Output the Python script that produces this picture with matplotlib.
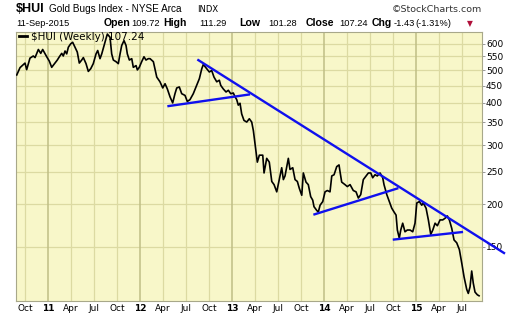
import matplotlib
matplotlib.use("Agg")
import matplotlib.pyplot as plt
from matplotlib.ticker import FixedLocator, NullLocator, FixedFormatter

# ---- data (time in decimal years, weekly close of $HUI) ----
t = [2010.660, 2010.696, 2010.750, 2010.768, 2010.804, 2010.840, 2010.859, 2010.895, 2010.921, 2010.942,
     2010.967, 2010.986, 2011.014, 2011.040, 2011.076, 2011.101, 2011.123, 2011.149, 2011.166, 2011.185,
     2011.203, 2011.221, 2011.247, 2011.268, 2011.293, 2011.318, 2011.340, 2011.366, 2011.384, 2011.413,
     2011.438, 2011.464, 2011.492, 2011.522, 2011.540, 2011.565, 2011.584, 2011.609, 2011.630, 2011.645,
     2011.674, 2011.692, 2011.710, 2011.739, 2011.764, 2011.783, 2011.801, 2011.826, 2011.848, 2011.862,
     2011.884, 2011.910, 2011.927, 2011.957, 2011.971, 2011.992, 2012.018, 2012.043, 2012.065, 2012.090,
     2012.109, 2012.145, 2012.182, 2012.217, 2012.247, 2012.272, 2012.297, 2012.326, 2012.355, 2012.380,
     2012.399, 2012.427, 2012.453, 2012.489, 2012.514, 2012.543, 2012.579, 2012.616, 2012.645, 2012.671,
     2012.688, 2012.725, 2012.753, 2012.779, 2012.804, 2012.834, 2012.862, 2012.877, 2012.905, 2012.935,
     2012.960, 2012.986, 2013.014, 2013.033, 2013.051, 2013.068, 2013.087, 2013.105, 2013.130, 2013.160,
     2013.188, 2013.214, 2013.232, 2013.250, 2013.275, 2013.297, 2013.334, 2013.348, 2013.377, 2013.405,
     2013.432, 2013.457, 2013.486, 2013.514, 2013.540, 2013.558, 2013.576, 2013.612, 2013.630, 2013.660,
     2013.685, 2013.710, 2013.732, 2013.758, 2013.775, 2013.804, 2013.829, 2013.855, 2013.877, 2013.891,
     2013.921, 2013.938, 2013.957, 2013.986, 2014.011, 2014.036, 2014.065, 2014.084, 2014.109, 2014.138,
     2014.163, 2014.174, 2014.192, 2014.228, 2014.253, 2014.283, 2014.318, 2014.348, 2014.373, 2014.399,
     2014.427, 2014.457, 2014.482, 2014.508, 2014.529, 2014.554, 2014.579, 2014.609, 2014.638, 2014.652,
     2014.682, 2014.710, 2014.736, 2014.761, 2014.783, 2014.797, 2014.818, 2014.834, 2014.855, 2014.880,
     2014.905, 2014.935, 2014.964, 2014.989, 2015.008, 2015.036, 2015.062, 2015.079, 2015.109, 2015.134,
     2015.160, 2015.182, 2015.207, 2015.232, 2015.261, 2015.290, 2015.315, 2015.340, 2015.362, 2015.388,
     2015.413, 2015.442, 2015.471, 2015.497, 2015.522, 2015.551, 2015.568, 2015.587, 2015.605, 2015.622,
     2015.641, 2015.666, 2015.685]
v = [484, 509, 525, 502, 543, 551, 545, 576, 561, 576,
     560, 548, 532, 510, 525, 536, 548, 561, 551, 570,
     559, 585, 599, 605, 585, 566, 525, 536, 545, 523,
     496, 505, 523, 559, 572, 541, 559, 592, 620, 640,
     626, 559, 536, 530, 523, 559, 592, 612, 592, 559,
     536, 541, 510, 516, 501, 510, 530, 548, 536, 541,
     541, 530, 477, 462, 443, 456, 440, 417, 400, 426,
     443, 446, 426, 421, 404, 409, 426, 451, 472, 505,
     520, 505, 494, 499, 477, 462, 467, 451, 440, 431,
     436, 426, 428, 417, 409, 394, 399, 371, 355, 351,
     359, 351, 331, 303, 267, 280, 280, 248, 274, 267,
     234, 229, 218, 237, 257, 237, 243, 274, 254, 257,
     237, 234, 223, 213, 248, 233, 229, 211, 206, 197,
     192, 190, 199, 204, 218, 220, 218, 243, 245, 259,
     262, 250, 233, 229, 226, 229, 220, 218, 209, 214,
     237, 243, 248, 248, 240, 245, 243, 248, 240, 229,
     214, 204, 195, 190, 186, 168, 159, 168, 176, 166,
     168, 168, 166, 176, 202, 204, 199, 202, 195, 180,
     163, 168, 176, 173, 180, 180, 182, 185, 180, 170,
     157, 154, 147, 134, 122, 112, 109, 114, 127, 117,
     110, 108, 107.24]

# trend lines: (start, end) in time and value
trend_t = [[2012.623, 2015.967], [2012.297, 2013.196], [2013.884, 2014.808], [2014.747, 2015.511]]
trend_v = [[538, 143.0], [391, 424], [186.5, 223.6], [157.3, 165.8]]

ytick_vals = [150, 200, 250, 300, 350, 400, 450, 500, 550, 600]
xtick_pos = [2010.75, 2011.0, 2011.25, 2011.5, 2011.75, 2012.0, 2012.25, 2012.5, 2012.75,
             2013.0, 2013.25, 2013.5, 2013.75, 2014.0, 2014.25, 2014.5, 2014.75,
             2015.0, 2015.25, 2015.5]
xtick_lab = ["Oct", "11", "Apr", "Jul", "Oct", "12", "Apr", "Jul", "Oct",
             "13", "Apr", "Jul", "Oct", "14", "Apr", "Jul", "Oct",
             "15", "Apr", "Jul"]

W, H = 520, 318
fig = plt.figure(figsize=(W / 100, H / 100), dpi=100)
fig.patch.set_facecolor("white")
ax = fig.add_axes([16 / W, 1 - 301 / H, 466 / W, 269 / H])
ax.set_facecolor("#F8F7C9")
ax.set_yscale("log")
ax.set_xlim(2010.652, 2015.717)
ax.set_ylim(103.5, 649)

grid_c = "#DCDAA2"
year_c = "#BFBE86"
for y in ytick_vals:
    ax.axhline(y, color=grid_c, lw=0.9, zorder=1)
for xp, lab in zip(xtick_pos, xtick_lab):
    ax.axvline(xp, color=(year_c if lab.isdigit() else grid_c), lw=(1.1 if lab.isdigit() else 0.9), zorder=1)

ax.plot(t, v, color="black", lw=1.2, zorder=3, solid_joinstyle="round")
for tt, vv in zip(trend_t, trend_v):
    ax.plot(tt, vv, color="#1010EE", lw=1.7, zorder=4, clip_on=False, solid_capstyle="butt")

for s in ax.spines.values():
    s.set_color("#A8A88A")
    s.set_linewidth(0.8)

ax.yaxis.tick_right()
ax.yaxis.set_major_locator(FixedLocator(ytick_vals))
ax.yaxis.set_minor_locator(NullLocator())
ax.yaxis.set_major_formatter(FixedFormatter([str(y) for y in ytick_vals]))
ax.tick_params(axis="y", which="major", direction="out", length=2, width=0.6, color="#888888",
               pad=0.8, labelsize=6.5, labelcolor="black")
ax.set_xticks(xtick_pos)
ax.set_xticklabels(xtick_lab)
ax.tick_params(axis="x", length=0, pad=2.5, labelsize=6.5)
for lbl in ax.get_xticklabels():
    if lbl.get_text().isdigit():
        lbl.set_fontweight("bold")

# legend inside plot
fig.lines.append(plt.Line2D([19 / W, 27 / W], [1 - 36 / H, 1 - 36 / H], color="black", lw=2,
                            transform=fig.transFigure))
fig.text(31 / W, 1 - 37.5 / H, "$HUI (Weekly) 107.24", fontsize=7.5, va="center", ha="left",
         family="DejaVu Sans")

# header
fig.text(16 / W, 1 - 11.7 / H, "$HUI", fontsize=9, fontweight="bold", family="Liberation Sans", va="baseline")
fig.text(49 / W, 1 - 11.5 / H, "Gold Bugs Index - NYSE Arca", fontsize=7.2, family="Liberation Sans",
         va="baseline")
fig.text(197 / W, 1 - 11.5 / H, "INDX", fontsize=6, family="DejaVu Sans", va="baseline")
fig.text(482 / W, 1 - 11.5 / H, "\u00a9StockCharts.com", fontsize=6.8, family="DejaVu Sans", va="baseline",
         ha="right", color="#333333")

row2 = [
    (16, "11-Sep-2015", "normal"),
    (104, "Open", "bold"), (131, "109.72", "normal"),
    (163, "High", "bold"), (199, "111.29", "normal"),
    (239, "Low", "bold"), (268, "101.28", "normal"),
    (306, "Close", "bold"), (339, "107.24", "normal"),
    (372, "Chg", "bold"), (394, "-1.43", "normal"), (415, "(-1.31%)", "normal"),
]
for xp, s, w in row2:
    fig.text(xp / W, 1 - 26.5 / H, s, fontsize=(7.6 if w == "bold" else 6.7), fontweight=w,
             family="Liberation Sans", va="baseline")
fig.text(467 / W, 1 - 26.5 / H, "\u25bc", fontsize=5.5, color="#B0103A", family="DejaVu Sans", va="baseline")

fig.savefig("out.png", dpi=100)
